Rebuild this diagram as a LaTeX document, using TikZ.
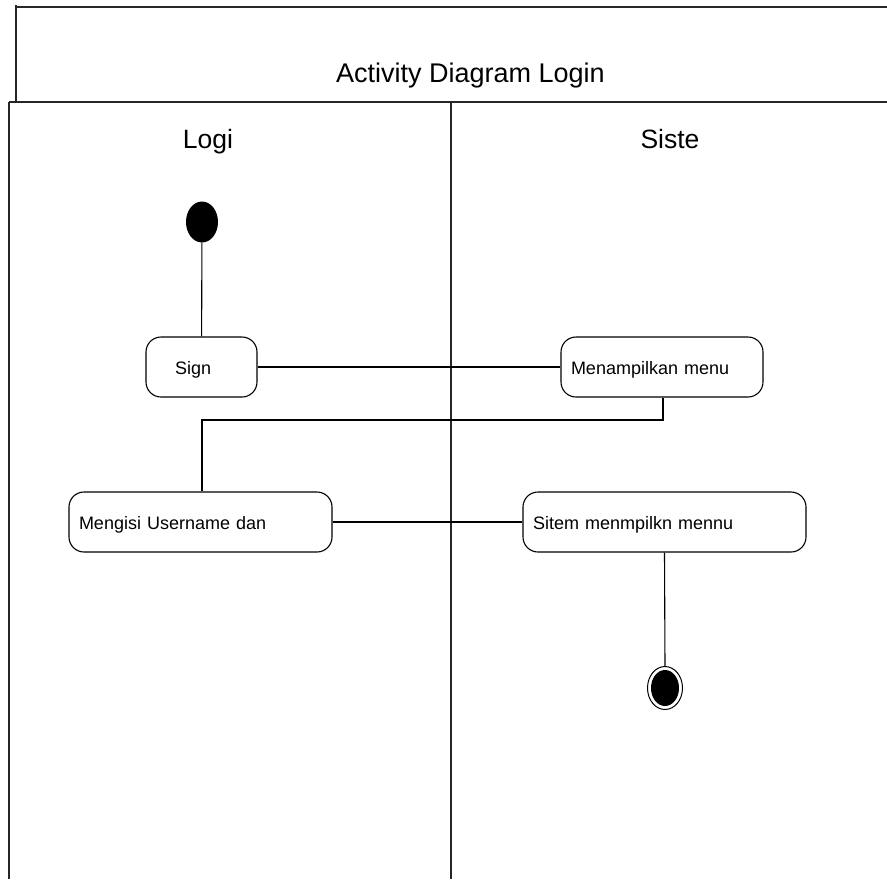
\documentclass[tikz,border=0pt]{standalone}
\usepackage{fontspec}
\setmainfont{Liberation Sans}
\usetikzlibrary{shapes.geometric}
\begin{document}
\begin{tikzpicture}[x=1pt,y=-1pt,
  frame/.style={line width=1.5pt,draw=black!85},
  act/.style={draw,line width=1.1pt,rounded corners=15pt,minimum height=60pt,inner sep=0pt,text height=14pt,text depth=0pt,font=\fontsize{18}{20}\selectfont},
  flow/.style={line width=1.1pt},
  big/.style={font=\fontsize{27}{31}\selectfont}]
\useasboundingbox (0,0) rectangle (887,879);
% frames
\draw[frame] (16,5) -- (16,102);
\draw[frame] (16,7) -- (887,7);
\draw[frame] (9,102) -- (887,102);
\draw[frame] (9,102) -- (9,879);
\draw[frame] (451,102) -- (451,879);
\node[big,anchor=base] (title) at (470.5,82) {Activity Diagram Login};
\node[big,anchor=base,font=\fontsize{26.5}{30}\selectfont] (lane1) at (208,148) {Logi};
\node[big,anchor=base,font=\fontsize{26.5}{30}\selectfont] (lane2) at (670,148) {Siste};
% nodes
\node[ellipse,fill=black,minimum width=32pt,minimum height=41pt,inner sep=0pt] (start) at (202,222) {};
\node[act,minimum width=111pt,text width=95pt,align=left] (sign) at (201.5,367) {\hspace{21pt}Sign};
\node[act,minimum width=202pt,text width=182pt,align=left] (menu) at (662,367) {Menampilkan menu};
\node[act,minimum width=263pt,text width=243pt,align=left] (isi) at (200.5,522) {Mengisi Username dan};
\node[act,minimum width=283pt,text width=263pt,align=left] (sitem) at (664.5,522) {Sitem menmpilkn mennu};
\node[ellipse,draw,line width=1pt,minimum width=35pt,minimum height=43pt,inner sep=0pt] (end) at (665,688) {};
\node[ellipse,fill=black,minimum width=28pt,minimum height=36pt,inner sep=0pt] (endin) at (665,688) {};
% flows
\draw[flow] (start) -- (sign);
\draw[flow] (sign) -- (menu);
\draw[flow] (menu.south -| 663,0) -- (663,420) -- (202,420) -- (isi.north -| 202,0);
\draw[flow] (isi) -- (sitem);
\draw[flow] (sitem.south) -- (end.north);
\end{tikzpicture}
\end{document}
